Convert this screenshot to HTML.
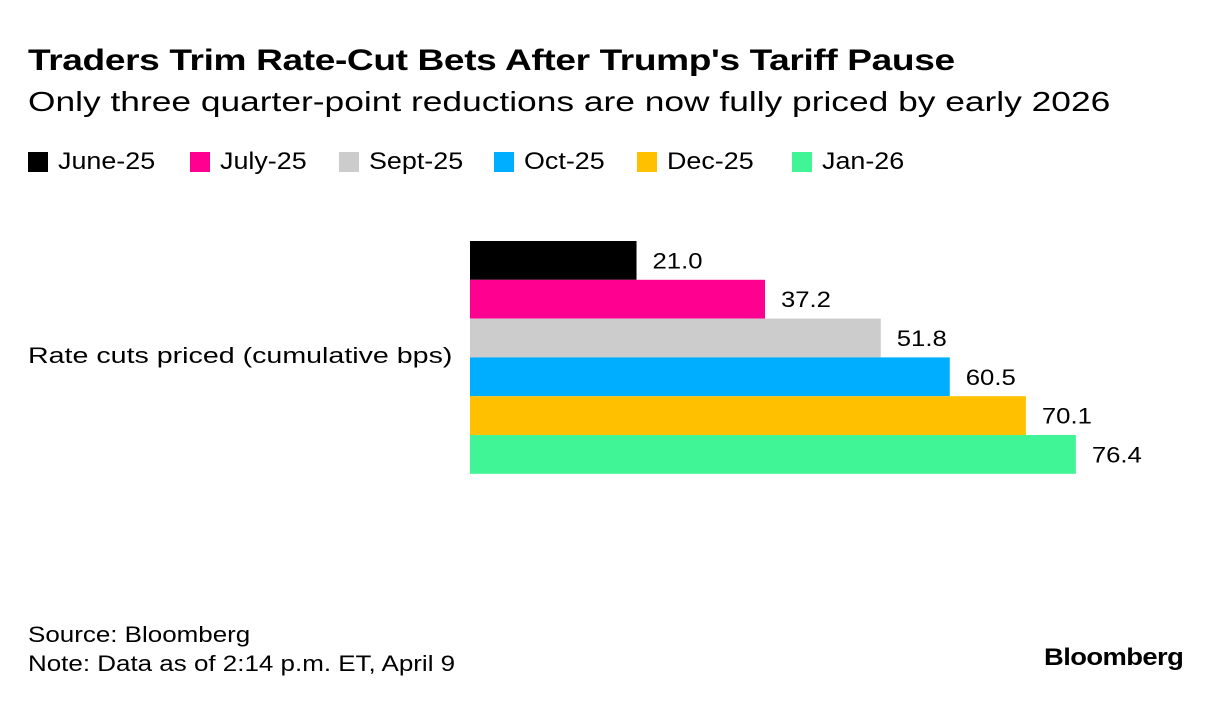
<!DOCTYPE html>
<html><head><meta charset="utf-8">
<style>
body{margin:0;width:1222px;height:702px;background:#fff;font-family:"Liberation Sans",Arial,sans-serif;color:#000;position:relative;overflow:hidden}
.abs{position:absolute;white-space:nowrap;transform-origin:0 0}
</style></head><body>
<div class="abs" style="left:28px;top:44px;font-size:30px;font-weight:bold;letter-spacing:-0.3px;transform:scaleX(1.236)">Traders Trim Rate-Cut Bets After Trump's Tariff Pause</div>
<div class="abs" style="left:28px;top:86px;font-size:28px;transform:scaleX(1.262)">Only three quarter-point reductions are now fully priced by early 2026</div>
<div id="legend" class="abs" style="left:0;top:148px;font-size:24px;width:1222px;height:30px"></div>
<div class="abs" style="left:28px;top:343px;font-size:22px;transform:scaleX(1.3)">Rate cuts priced (cumulative bps)</div>
<svg id="chart" class="abs" style="left:0;top:0" width="1222" height="702"></svg>
<div class="abs" style="left:28px;top:620px;font-size:22px;line-height:29px;transform:scaleX(1.18)">Source: Bloomberg<br>Note: Data as of 2:14 p.m. ET, April 9</div>
<div class="abs" style="left:1044px;top:644px;font-size:24px;font-weight:bold;letter-spacing:-0.5px;transform:scaleX(1.14)">Bloomberg</div>
<script>
const categories=["June-25","July-25","Sept-25","Oct-25","Dec-25","Jan-26"];
const values=[21.0,37.2,51.8,60.5,70.1,76.4];
const labels=["21.0","37.2","51.8","60.5","70.1","76.4"];
const colors=["#000000","#ff0090","#cccccc","#00aeff","#ffc000","#40f595"];
const x0=470,scale=7.93,y0=241,bh=38.8;
function xScale(v){return x0+v*scale;}
function yScale(i){return y0+i*bh;}
const svg=document.getElementById('chart');const ns="http://www.w3.org/2000/svg";
values.forEach((v,i)=>{
 const r=document.createElementNS(ns,'rect');
 r.setAttribute('x',x0);r.setAttribute('y',yScale(i));
 r.setAttribute('width',xScale(v)-x0);r.setAttribute('height',bh);
 r.setAttribute('fill',colors[i]);
 
 
 svg.appendChild(r);
 const t=document.createElementNS(ns,'text');
 t.setAttribute('x',xScale(v)+16);t.setAttribute('y',yScale(i)+bh/2+8);
 t.setAttribute('font-size','22');t.setAttribute('font-family','Liberation Sans, Arial, sans-serif');
 t.setAttribute('textLength','50');t.setAttribute('lengthAdjust','spacingAndGlyphs');
 t.textContent=labels[i];
 
 
 svg.appendChild(t);
});
const legendX=[28,190,339,494,637,792];
const lg=document.getElementById('legend');
categories.forEach((c,i)=>{
 const e=document.createElement('div');
 e.style.cssText='position:absolute;top:0;left:'+legendX[i]+'px;display:flex;align-items:center;height:28px';
 e.innerHTML='<span style="display:inline-block;width:20px;height:20px;background:'+colors[i]+';margin-right:10px"></span><span style="display:inline-block;transform:scaleX(1.12);transform-origin:0 50%">'+c+'</span>';
 
 
 lg.appendChild(e);
});
</script>
</body></html>
